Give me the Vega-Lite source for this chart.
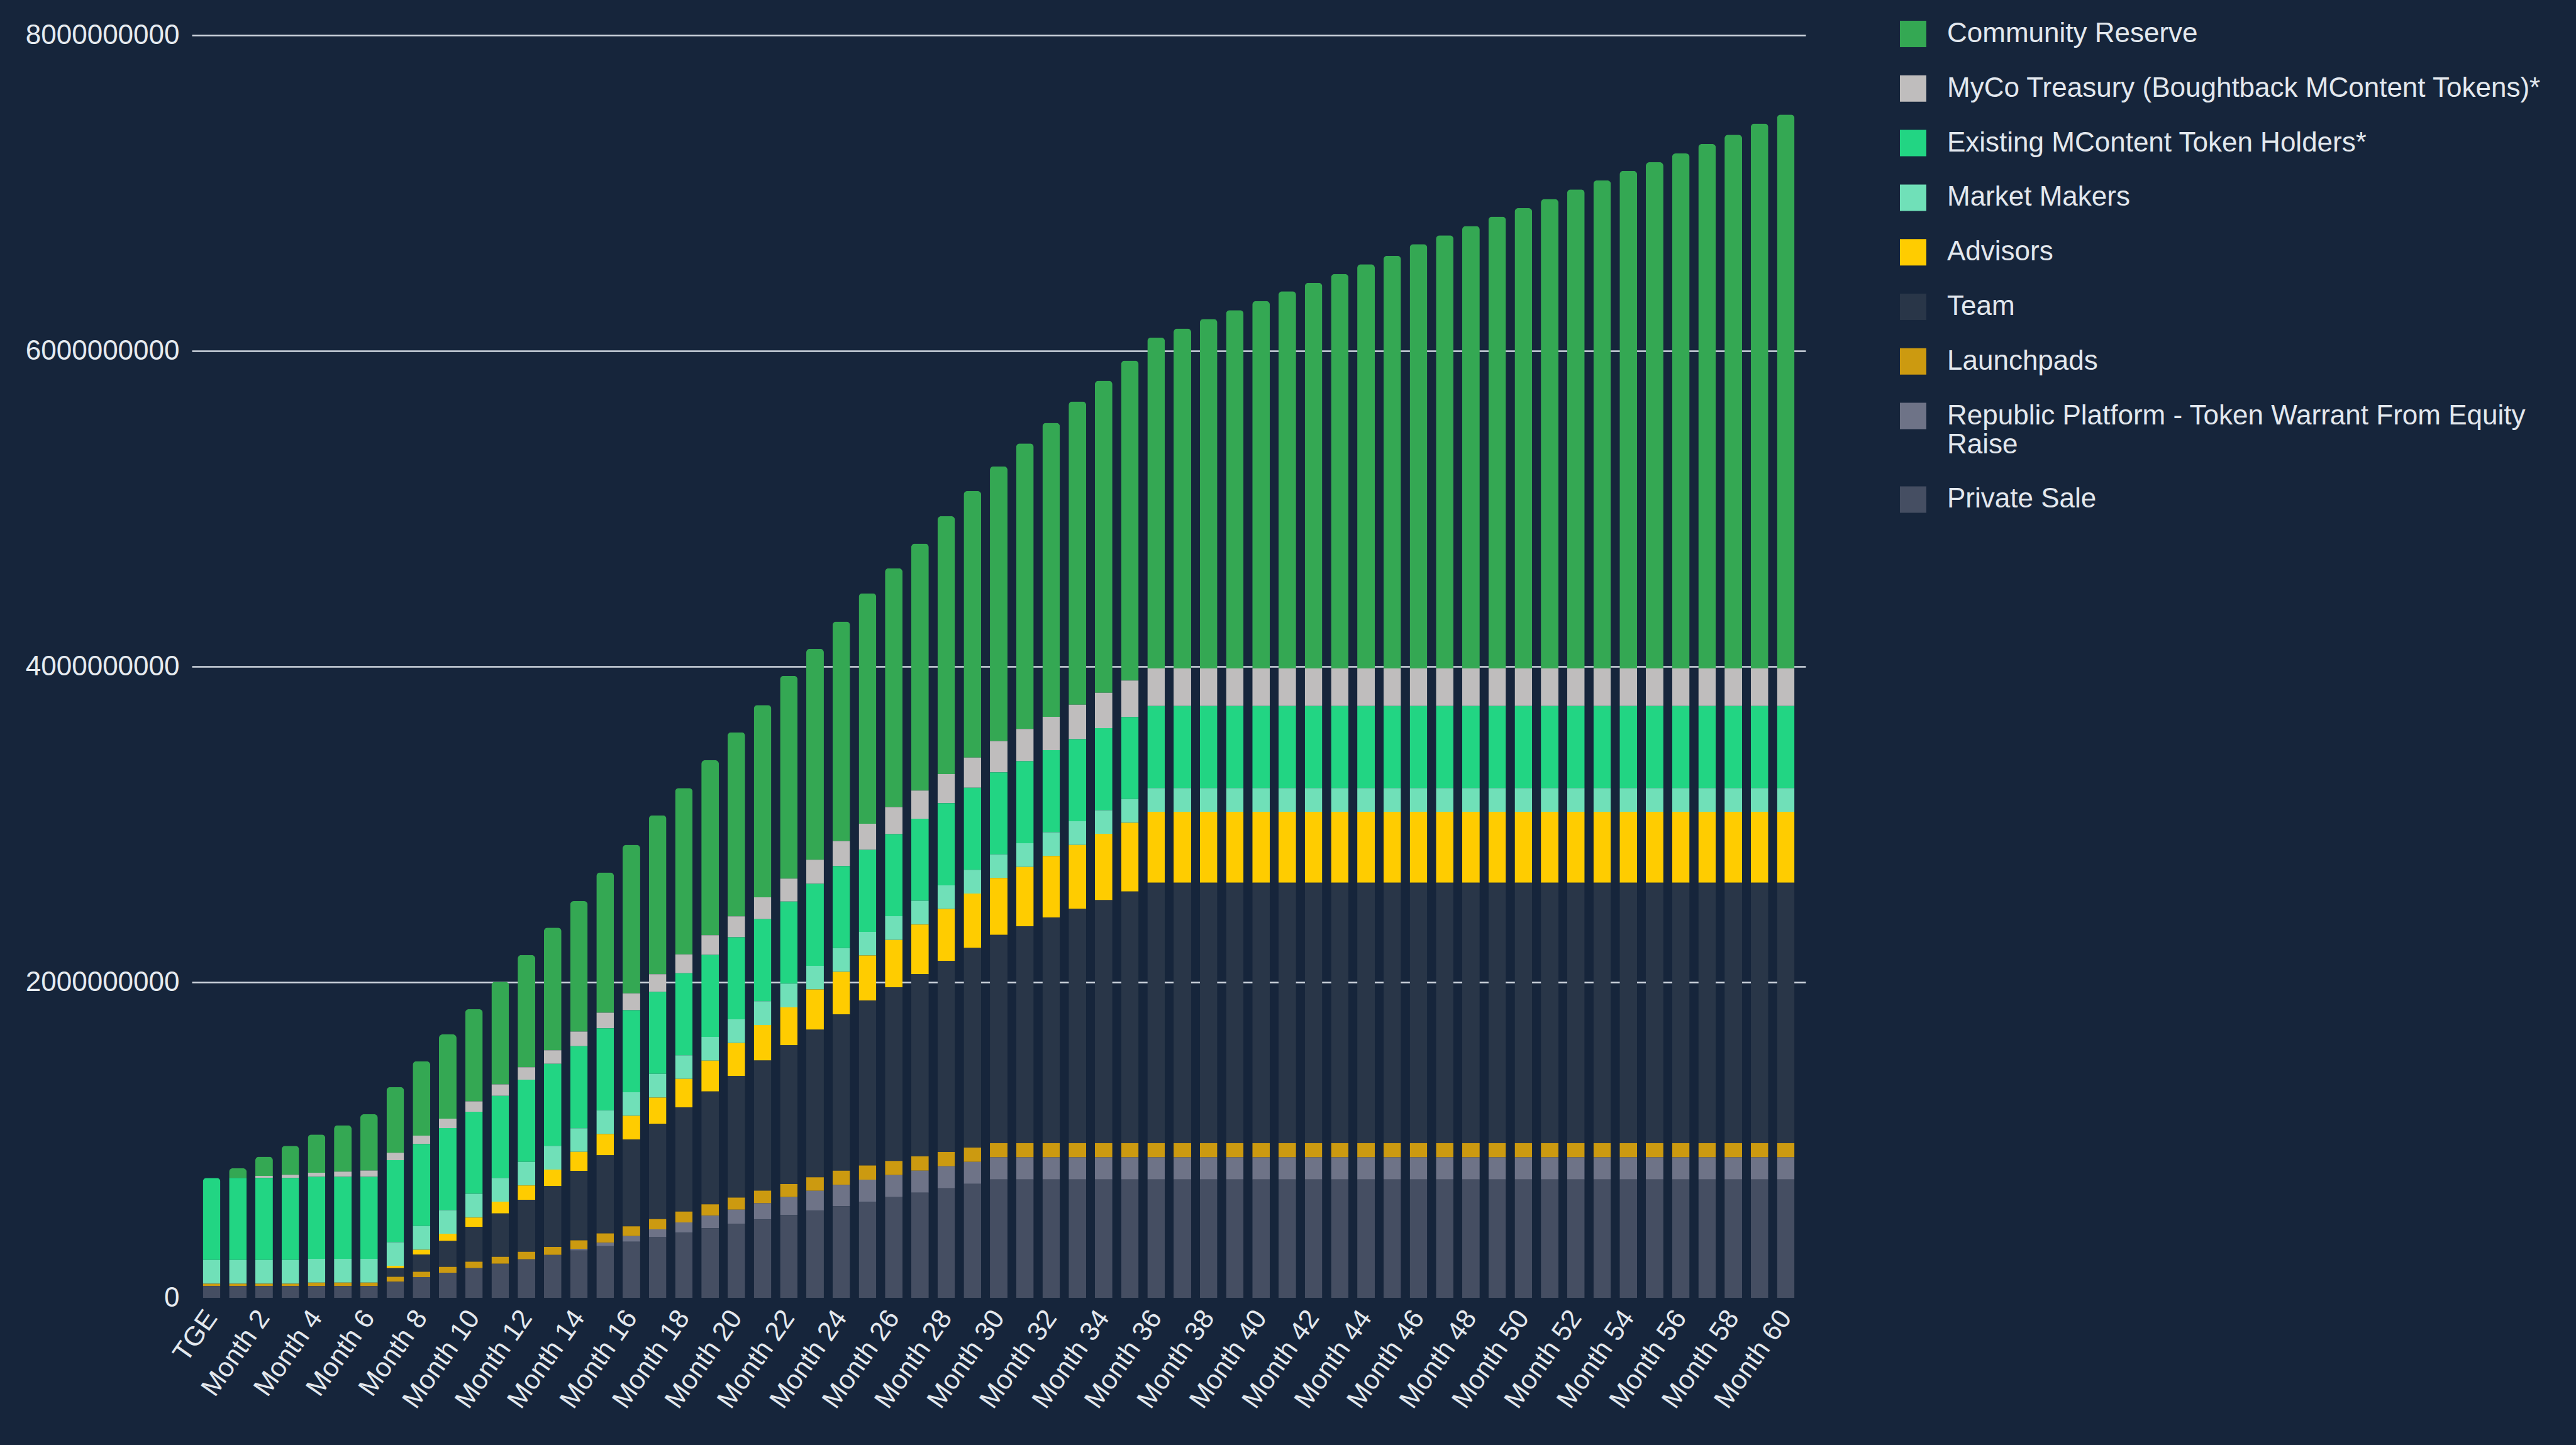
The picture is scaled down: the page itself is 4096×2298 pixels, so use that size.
{
"$schema": "https://vega.github.io/schema/vega-lite/v6.json",
"width": 2566, "height": 2008,
"autosize": {"type": "none"},
"padding": {"left": 305, "top": 56, "right": 1225, "bottom": 234},
"background": "#16253b",
"config": {"view": {"stroke": null}, "font": "Liberation Sans"},
"data": {"values": [
{"period":"TGE","Private Sale":75000000,"Republic Platform - Token Warrant From Equity Raise":0,"Launchpads":15000000,"Team":0,"Advisors":0,"Market Makers":150000000,"Existing MContent Token Holders*":520000000,"MyCo Treasury (Boughtback MContent Tokens)*":0,"Community Reserve":0},
{"period":"Month 1","Private Sale":75000000,"Republic Platform - Token Warrant From Equity Raise":0,"Launchpads":15000000,"Team":0,"Advisors":0,"Market Makers":150000000,"Existing MContent Token Holders*":520000000,"MyCo Treasury (Boughtback MContent Tokens)*":0,"Community Reserve":61000000},
{"period":"Month 2","Private Sale":75000000,"Republic Platform - Token Warrant From Equity Raise":0,"Launchpads":15000000,"Team":0,"Advisors":0,"Market Makers":150000000,"Existing MContent Token Holders*":520000000,"MyCo Treasury (Boughtback MContent Tokens)*":13000000,"Community Reserve":121000000},
{"period":"Month 3","Private Sale":75000000,"Republic Platform - Token Warrant From Equity Raise":0,"Launchpads":15000000,"Team":0,"Advisors":0,"Market Makers":150000000,"Existing MContent Token Holders*":520000000,"MyCo Treasury (Boughtback MContent Tokens)*":20000000,"Community Reserve":183000000},
{"period":"Month 4","Private Sale":75000000,"Republic Platform - Token Warrant From Equity Raise":0,"Launchpads":22000000,"Team":0,"Advisors":0,"Market Makers":150000000,"Existing MContent Token Holders*":520000000,"MyCo Treasury (Boughtback MContent Tokens)*":26000000,"Community Reserve":242000000},
{"period":"Month 5","Private Sale":75000000,"Republic Platform - Token Warrant From Equity Raise":0,"Launchpads":22000000,"Team":0,"Advisors":0,"Market Makers":150000000,"Existing MContent Token Holders*":520000000,"MyCo Treasury (Boughtback MContent Tokens)*":33000000,"Community Reserve":294000000},
{"period":"Month 6","Private Sale":75000000,"Republic Platform - Token Warrant From Equity Raise":0,"Launchpads":22000000,"Team":0,"Advisors":0,"Market Makers":150000000,"Existing MContent Token Holders*":520000000,"MyCo Treasury (Boughtback MContent Tokens)*":40000000,"Community Reserve":356000000},
{"period":"Month 7","Private Sale":103000000,"Republic Platform - Token Warrant From Equity Raise":0,"Launchpads":30000000,"Team":55000000,"Advisors":15000000,"Market Makers":150000000,"Existing MContent Token Holders*":520000000,"MyCo Treasury (Boughtback MContent Tokens)*":46000000,"Community Reserve":417000000},
{"period":"Month 8","Private Sale":131000000,"Republic Platform - Token Warrant From Equity Raise":0,"Launchpads":34000000,"Team":110000000,"Advisors":30000000,"Market Makers":150000000,"Existing MContent Token Holders*":520000000,"MyCo Treasury (Boughtback MContent Tokens)*":53000000,"Community Reserve":471000000},
{"period":"Month 9","Private Sale":159000000,"Republic Platform - Token Warrant From Equity Raise":0,"Launchpads":37000000,"Team":165000000,"Advisors":45000000,"Market Makers":150000000,"Existing MContent Token Holders*":520000000,"MyCo Treasury (Boughtback MContent Tokens)*":59000000,"Community Reserve":534000000},
{"period":"Month 10","Private Sale":188000000,"Republic Platform - Token Warrant From Equity Raise":0,"Launchpads":41000000,"Team":220000000,"Advisors":60000000,"Market Makers":150000000,"Existing MContent Token Holders*":520000000,"MyCo Treasury (Boughtback MContent Tokens)*":66000000,"Community Reserve":584000000},
{"period":"Month 11","Private Sale":216000000,"Republic Platform - Token Warrant From Equity Raise":0,"Launchpads":44000000,"Team":275000000,"Advisors":75000000,"Market Makers":150000000,"Existing MContent Token Holders*":520000000,"MyCo Treasury (Boughtback MContent Tokens)*":73000000,"Community Reserve":650000000},
{"period":"Month 12","Private Sale":244000000,"Republic Platform - Token Warrant From Equity Raise":0,"Launchpads":48000000,"Team":330000000,"Advisors":90000000,"Market Makers":150000000,"Existing MContent Token Holders*":520000000,"MyCo Treasury (Boughtback MContent Tokens)*":79000000,"Community Reserve":711000000},
{"period":"Month 13","Private Sale":272000000,"Republic Platform - Token Warrant From Equity Raise":0,"Launchpads":51000000,"Team":385000000,"Advisors":105000000,"Market Makers":150000000,"Existing MContent Token Holders*":520000000,"MyCo Treasury (Boughtback MContent Tokens)*":86000000,"Community Reserve":777000000},
{"period":"Month 14","Private Sale":300000000,"Republic Platform - Token Warrant From Equity Raise":10000000,"Launchpads":55000000,"Team":440000000,"Advisors":120000000,"Market Makers":150000000,"Existing MContent Token Holders*":520000000,"MyCo Treasury (Boughtback MContent Tokens)*":92000000,"Community Reserve":827000000},
{"period":"Month 15","Private Sale":328000000,"Republic Platform - Token Warrant From Equity Raise":22000000,"Launchpads":58000000,"Team":495000000,"Advisors":135000000,"Market Makers":150000000,"Existing MContent Token Holders*":520000000,"MyCo Treasury (Boughtback MContent Tokens)*":99000000,"Community Reserve":888000000},
{"period":"Month 16","Private Sale":356000000,"Republic Platform - Token Warrant From Equity Raise":35000000,"Launchpads":62000000,"Team":550000000,"Advisors":150000000,"Market Makers":150000000,"Existing MContent Token Holders*":520000000,"MyCo Treasury (Boughtback MContent Tokens)*":106000000,"Community Reserve":942000000},
{"period":"Month 17","Private Sale":384000000,"Republic Platform - Token Warrant From Equity Raise":50000000,"Launchpads":65000000,"Team":605000000,"Advisors":165000000,"Market Makers":150000000,"Existing MContent Token Holders*":520000000,"MyCo Treasury (Boughtback MContent Tokens)*":112000000,"Community Reserve":1007000000},
{"period":"Month 18","Private Sale":413000000,"Republic Platform - Token Warrant From Equity Raise":65000000,"Launchpads":69000000,"Team":660000000,"Advisors":180000000,"Market Makers":150000000,"Existing MContent Token Holders*":520000000,"MyCo Treasury (Boughtback MContent Tokens)*":119000000,"Community Reserve":1054000000},
{"period":"Month 19","Private Sale":441000000,"Republic Platform - Token Warrant From Equity Raise":80000000,"Launchpads":72000000,"Team":715000000,"Advisors":195000000,"Market Makers":150000000,"Existing MContent Token Holders*":520000000,"MyCo Treasury (Boughtback MContent Tokens)*":125000000,"Community Reserve":1108000000},
{"period":"Month 20","Private Sale":469000000,"Republic Platform - Token Warrant From Equity Raise":90000000,"Launchpads":76000000,"Team":770000000,"Advisors":210000000,"Market Makers":150000000,"Existing MContent Token Holders*":520000000,"MyCo Treasury (Boughtback MContent Tokens)*":132000000,"Community Reserve":1167000000},
{"period":"Month 21","Private Sale":497000000,"Republic Platform - Token Warrant From Equity Raise":103000000,"Launchpads":79000000,"Team":825000000,"Advisors":225000000,"Market Makers":150000000,"Existing MContent Token Holders*":520000000,"MyCo Treasury (Boughtback MContent Tokens)*":139000000,"Community Reserve":1218000000},
{"period":"Month 22","Private Sale":525000000,"Republic Platform - Token Warrant From Equity Raise":113000000,"Launchpads":83000000,"Team":880000000,"Advisors":240000000,"Market Makers":150000000,"Existing MContent Token Holders*":520000000,"MyCo Treasury (Boughtback MContent Tokens)*":145000000,"Community Reserve":1285000000},
{"period":"Month 23","Private Sale":553000000,"Republic Platform - Token Warrant From Equity Raise":125000000,"Launchpads":86000000,"Team":935000000,"Advisors":255000000,"Market Makers":150000000,"Existing MContent Token Holders*":520000000,"MyCo Treasury (Boughtback MContent Tokens)*":152000000,"Community Reserve":1337000000},
{"period":"Month 24","Private Sale":581000000,"Republic Platform - Token Warrant From Equity Raise":135000000,"Launchpads":90000000,"Team":990000000,"Advisors":270000000,"Market Makers":150000000,"Existing MContent Token Holders*":520000000,"MyCo Treasury (Boughtback MContent Tokens)*":158000000,"Community Reserve":1391000000},
{"period":"Month 25","Private Sale":609000000,"Republic Platform - Token Warrant From Equity Raise":140000000,"Launchpads":90000000,"Team":1045000000,"Advisors":285000000,"Market Makers":150000000,"Existing MContent Token Holders*":520000000,"MyCo Treasury (Boughtback MContent Tokens)*":165000000,"Community Reserve":1460000000},
{"period":"Month 26","Private Sale":638000000,"Republic Platform - Token Warrant From Equity Raise":140000000,"Launchpads":90000000,"Team":1100000000,"Advisors":300000000,"Market Makers":150000000,"Existing MContent Token Holders*":520000000,"MyCo Treasury (Boughtback MContent Tokens)*":172000000,"Community Reserve":1513000000},
{"period":"Month 27","Private Sale":666000000,"Republic Platform - Token Warrant From Equity Raise":140000000,"Launchpads":90000000,"Team":1155000000,"Advisors":315000000,"Market Makers":150000000,"Existing MContent Token Holders*":520000000,"MyCo Treasury (Boughtback MContent Tokens)*":178000000,"Community Reserve":1565000000},
{"period":"Month 28","Private Sale":694000000,"Republic Platform - Token Warrant From Equity Raise":140000000,"Launchpads":90000000,"Team":1210000000,"Advisors":330000000,"Market Makers":150000000,"Existing MContent Token Holders*":520000000,"MyCo Treasury (Boughtback MContent Tokens)*":185000000,"Community Reserve":1633000000},
{"period":"Month 29","Private Sale":722000000,"Republic Platform - Token Warrant From Equity Raise":140000000,"Launchpads":90000000,"Team":1265000000,"Advisors":345000000,"Market Makers":150000000,"Existing MContent Token Holders*":520000000,"MyCo Treasury (Boughtback MContent Tokens)*":191000000,"Community Reserve":1689000000},
{"period":"Month 30","Private Sale":750000000,"Republic Platform - Token Warrant From Equity Raise":140000000,"Launchpads":90000000,"Team":1320000000,"Advisors":360000000,"Market Makers":150000000,"Existing MContent Token Holders*":520000000,"MyCo Treasury (Boughtback MContent Tokens)*":198000000,"Community Reserve":1741000000},
{"period":"Month 31","Private Sale":750000000,"Republic Platform - Token Warrant From Equity Raise":140000000,"Launchpads":90000000,"Team":1375000000,"Advisors":375000000,"Market Makers":150000000,"Existing MContent Token Holders*":520000000,"MyCo Treasury (Boughtback MContent Tokens)*":205000000,"Community Reserve":1808000000},
{"period":"Month 32","Private Sale":750000000,"Republic Platform - Token Warrant From Equity Raise":140000000,"Launchpads":90000000,"Team":1430000000,"Advisors":390000000,"Market Makers":150000000,"Existing MContent Token Holders*":520000000,"MyCo Treasury (Boughtback MContent Tokens)*":211000000,"Community Reserve":1863000000},
{"period":"Month 33","Private Sale":750000000,"Republic Platform - Token Warrant From Equity Raise":140000000,"Launchpads":90000000,"Team":1485000000,"Advisors":405000000,"Market Makers":150000000,"Existing MContent Token Holders*":520000000,"MyCo Treasury (Boughtback MContent Tokens)*":218000000,"Community Reserve":1921000000},
{"period":"Month 34","Private Sale":750000000,"Republic Platform - Token Warrant From Equity Raise":140000000,"Launchpads":90000000,"Team":1540000000,"Advisors":420000000,"Market Makers":150000000,"Existing MContent Token Holders*":520000000,"MyCo Treasury (Boughtback MContent Tokens)*":224000000,"Community Reserve":1977000000},
{"period":"Month 35","Private Sale":750000000,"Republic Platform - Token Warrant From Equity Raise":140000000,"Launchpads":90000000,"Team":1595000000,"Advisors":435000000,"Market Makers":150000000,"Existing MContent Token Holders*":520000000,"MyCo Treasury (Boughtback MContent Tokens)*":231000000,"Community Reserve":2027000000},
{"period":"Month 36","Private Sale":750000000,"Republic Platform - Token Warrant From Equity Raise":140000000,"Launchpads":90000000,"Team":1650000000,"Advisors":450000000,"Market Makers":150000000,"Existing MContent Token Holders*":520000000,"MyCo Treasury (Boughtback MContent Tokens)*":238000000,"Community Reserve":2097000000},
{"period":"Month 37","Private Sale":750000000,"Republic Platform - Token Warrant From Equity Raise":140000000,"Launchpads":90000000,"Team":1650000000,"Advisors":450000000,"Market Makers":150000000,"Existing MContent Token Holders*":520000000,"MyCo Treasury (Boughtback MContent Tokens)*":238000000,"Community Reserve":2153000000},
{"period":"Month 38","Private Sale":750000000,"Republic Platform - Token Warrant From Equity Raise":140000000,"Launchpads":90000000,"Team":1650000000,"Advisors":450000000,"Market Makers":150000000,"Existing MContent Token Holders*":520000000,"MyCo Treasury (Boughtback MContent Tokens)*":238000000,"Community Reserve":2214000000},
{"period":"Month 39","Private Sale":750000000,"Republic Platform - Token Warrant From Equity Raise":140000000,"Launchpads":90000000,"Team":1650000000,"Advisors":450000000,"Market Makers":150000000,"Existing MContent Token Holders*":520000000,"MyCo Treasury (Boughtback MContent Tokens)*":238000000,"Community Reserve":2270000000},
{"period":"Month 40","Private Sale":750000000,"Republic Platform - Token Warrant From Equity Raise":140000000,"Launchpads":90000000,"Team":1650000000,"Advisors":450000000,"Market Makers":150000000,"Existing MContent Token Holders*":520000000,"MyCo Treasury (Boughtback MContent Tokens)*":238000000,"Community Reserve":2328000000},
{"period":"Month 41","Private Sale":750000000,"Republic Platform - Token Warrant From Equity Raise":140000000,"Launchpads":90000000,"Team":1650000000,"Advisors":450000000,"Market Makers":150000000,"Existing MContent Token Holders*":520000000,"MyCo Treasury (Boughtback MContent Tokens)*":238000000,"Community Reserve":2389000000},
{"period":"Month 42","Private Sale":750000000,"Republic Platform - Token Warrant From Equity Raise":140000000,"Launchpads":90000000,"Team":1650000000,"Advisors":450000000,"Market Makers":150000000,"Existing MContent Token Holders*":520000000,"MyCo Treasury (Boughtback MContent Tokens)*":238000000,"Community Reserve":2443000000},
{"period":"Month 43","Private Sale":750000000,"Republic Platform - Token Warrant From Equity Raise":140000000,"Launchpads":90000000,"Team":1650000000,"Advisors":450000000,"Market Makers":150000000,"Existing MContent Token Holders*":520000000,"MyCo Treasury (Boughtback MContent Tokens)*":238000000,"Community Reserve":2499000000},
{"period":"Month 44","Private Sale":750000000,"Republic Platform - Token Warrant From Equity Raise":140000000,"Launchpads":90000000,"Team":1650000000,"Advisors":450000000,"Market Makers":150000000,"Existing MContent Token Holders*":520000000,"MyCo Treasury (Boughtback MContent Tokens)*":238000000,"Community Reserve":2561000000},
{"period":"Month 45","Private Sale":750000000,"Republic Platform - Token Warrant From Equity Raise":140000000,"Launchpads":90000000,"Team":1650000000,"Advisors":450000000,"Market Makers":150000000,"Existing MContent Token Holders*":520000000,"MyCo Treasury (Boughtback MContent Tokens)*":238000000,"Community Reserve":2615000000},
{"period":"Month 46","Private Sale":750000000,"Republic Platform - Token Warrant From Equity Raise":140000000,"Launchpads":90000000,"Team":1650000000,"Advisors":450000000,"Market Makers":150000000,"Existing MContent Token Holders*":520000000,"MyCo Treasury (Boughtback MContent Tokens)*":238000000,"Community Reserve":2688000000},
{"period":"Month 47","Private Sale":750000000,"Republic Platform - Token Warrant From Equity Raise":140000000,"Launchpads":90000000,"Team":1650000000,"Advisors":450000000,"Market Makers":150000000,"Existing MContent Token Holders*":520000000,"MyCo Treasury (Boughtback MContent Tokens)*":238000000,"Community Reserve":2744000000},
{"period":"Month 48","Private Sale":750000000,"Republic Platform - Token Warrant From Equity Raise":140000000,"Launchpads":90000000,"Team":1650000000,"Advisors":450000000,"Market Makers":150000000,"Existing MContent Token Holders*":520000000,"MyCo Treasury (Boughtback MContent Tokens)*":238000000,"Community Reserve":2803000000},
{"period":"Month 49","Private Sale":750000000,"Republic Platform - Token Warrant From Equity Raise":140000000,"Launchpads":90000000,"Team":1650000000,"Advisors":450000000,"Market Makers":150000000,"Existing MContent Token Holders*":520000000,"MyCo Treasury (Boughtback MContent Tokens)*":238000000,"Community Reserve":2863000000},
{"period":"Month 50","Private Sale":750000000,"Republic Platform - Token Warrant From Equity Raise":140000000,"Launchpads":90000000,"Team":1650000000,"Advisors":450000000,"Market Makers":150000000,"Existing MContent Token Holders*":520000000,"MyCo Treasury (Boughtback MContent Tokens)*":238000000,"Community Reserve":2916000000},
{"period":"Month 51","Private Sale":750000000,"Republic Platform - Token Warrant From Equity Raise":140000000,"Launchpads":90000000,"Team":1650000000,"Advisors":450000000,"Market Makers":150000000,"Existing MContent Token Holders*":520000000,"MyCo Treasury (Boughtback MContent Tokens)*":238000000,"Community Reserve":2974000000},
{"period":"Month 52","Private Sale":750000000,"Republic Platform - Token Warrant From Equity Raise":140000000,"Launchpads":90000000,"Team":1650000000,"Advisors":450000000,"Market Makers":150000000,"Existing MContent Token Holders*":520000000,"MyCo Treasury (Boughtback MContent Tokens)*":238000000,"Community Reserve":3035000000},
{"period":"Month 53","Private Sale":750000000,"Republic Platform - Token Warrant From Equity Raise":140000000,"Launchpads":90000000,"Team":1650000000,"Advisors":450000000,"Market Makers":150000000,"Existing MContent Token Holders*":520000000,"MyCo Treasury (Boughtback MContent Tokens)*":238000000,"Community Reserve":3092000000},
{"period":"Month 54","Private Sale":750000000,"Republic Platform - Token Warrant From Equity Raise":140000000,"Launchpads":90000000,"Team":1650000000,"Advisors":450000000,"Market Makers":150000000,"Existing MContent Token Holders*":520000000,"MyCo Treasury (Boughtback MContent Tokens)*":238000000,"Community Reserve":3152000000},
{"period":"Month 55","Private Sale":750000000,"Republic Platform - Token Warrant From Equity Raise":140000000,"Launchpads":90000000,"Team":1650000000,"Advisors":450000000,"Market Makers":150000000,"Existing MContent Token Holders*":520000000,"MyCo Treasury (Boughtback MContent Tokens)*":238000000,"Community Reserve":3207000000},
{"period":"Month 56","Private Sale":750000000,"Republic Platform - Token Warrant From Equity Raise":140000000,"Launchpads":90000000,"Team":1650000000,"Advisors":450000000,"Market Makers":150000000,"Existing MContent Token Holders*":520000000,"MyCo Treasury (Boughtback MContent Tokens)*":238000000,"Community Reserve":3263000000},
{"period":"Month 57","Private Sale":750000000,"Republic Platform - Token Warrant From Equity Raise":140000000,"Launchpads":90000000,"Team":1650000000,"Advisors":450000000,"Market Makers":150000000,"Existing MContent Token Holders*":520000000,"MyCo Treasury (Boughtback MContent Tokens)*":238000000,"Community Reserve":3323000000},
{"period":"Month 58","Private Sale":750000000,"Republic Platform - Token Warrant From Equity Raise":140000000,"Launchpads":90000000,"Team":1650000000,"Advisors":450000000,"Market Makers":150000000,"Existing MContent Token Holders*":520000000,"MyCo Treasury (Boughtback MContent Tokens)*":238000000,"Community Reserve":3382000000},
{"period":"Month 59","Private Sale":750000000,"Republic Platform - Token Warrant From Equity Raise":140000000,"Launchpads":90000000,"Team":1650000000,"Advisors":450000000,"Market Makers":150000000,"Existing MContent Token Holders*":520000000,"MyCo Treasury (Boughtback MContent Tokens)*":238000000,"Community Reserve":3452000000},
{"period":"Month 60","Private Sale":750000000,"Republic Platform - Token Warrant From Equity Raise":140000000,"Launchpads":90000000,"Team":1650000000,"Advisors":450000000,"Market Makers":150000000,"Existing MContent Token Holders*":520000000,"MyCo Treasury (Boughtback MContent Tokens)*":238000000,"Community Reserve":3509000000}
]},
"transform": [
{"fold": ["Community Reserve","MyCo Treasury (Boughtback MContent Tokens)*","Existing MContent Token Holders*","Market Makers","Advisors","Team","Launchpads","Republic Platform - Token Warrant From Equity Raise","Private Sale"], "as": ["series","value"]},
{"calculate": "indexof(['Private Sale','Republic Platform - Token Warrant From Equity Raise','Launchpads','Team','Advisors','Market Makers','Existing MContent Token Holders*','MyCo Treasury (Boughtback MContent Tokens)*','Community Reserve'], datum.series)", "as": "stackRank"}
],
"mark": {"type": "bar", "cornerRadiusEnd": 6},
"encoding": {
"x": {"field": "period", "type": "nominal", "sort": null,
 "scale": {"paddingInner": 0.33, "paddingOuter": 0.42},
 "axis": {"title": null, "values": ["TGE","Month 2","Month 4","Month 6","Month 8","Month 10","Month 12","Month 14","Month 16","Month 18","Month 20","Month 22","Month 24","Month 26","Month 28","Month 30","Month 32","Month 34","Month 36","Month 38","Month 40","Month 42","Month 44","Month 46","Month 48","Month 50","Month 52","Month 54","Month 56","Month 58","Month 60"],
  "labelAngle": -55, "labelAlign": "right", "labelBaseline": "middle", "labelFontSize": 43, "labelColor": "#e3e8ee", "labelPadding": 24, "labelLimit": 400, "ticks": false, "domain": false}},
"y": {"field": "value", "type": "quantitative", "stack": "zero",
 "scale": {"domain": [0, 8000000000], "nice": false},
 "axis": {"title": null, "values": [0, 2000000000, 4000000000, 6000000000, 8000000000], "format": "d", "labelFontSize": 44, "labelColor": "#e6ebf0", "labelPadding": 20, "labelLimit": 500, "ticks": false, "domain": false,
  "gridColor": {"condition": {"test": "datum.value === 0", "value": "transparent"}, "value": "#d0d7e0"}, "gridWidth": 2.5}},
"color": {"field": "series", "type": "nominal",
 "scale": {"domain": ["Community Reserve","MyCo Treasury (Boughtback MContent Tokens)*","Existing MContent Token Holders*","Market Makers","Advisors","Team","Launchpads","Republic Platform - Token Warrant From Equity Raise","Private Sale"],
  "range": ["#34a853","#bfbdbd","#22d583","#70e0b8","#ffcc00","#293648","#cc9a10","#6e7387","#454e62"]},
 "legend": {"title": null, "orient": "none", "legendX": 2715, "legendY": -24, "symbolType": "square", "symbolSize": 1764, "symbolStrokeWidth": 0, "symbolOpacity": 1, "labelFontSize": 44, "labelColor": "#e3e8ee", "labelLimit": 1200, "labelOffset": 32, "rowPadding": 42.8,
  "labelExpr": "datum.label === 'Republic Platform - Token Warrant From Equity Raise' ? ['Republic Platform - Token Warrant From Equity', 'Raise'] : datum.label"}},
"order": {"field": "stackRank", "type": "quantitative", "sort": "ascending"}
}
}
